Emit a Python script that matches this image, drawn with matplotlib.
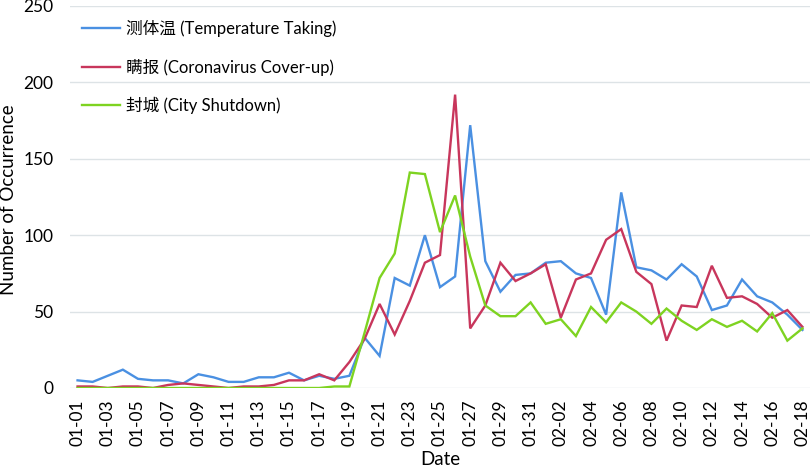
import matplotlib
matplotlib.use("Agg")
import matplotlib.pyplot as plt
import numpy as np

plt.rcParams['font.family'] = ['Lato', 'Noto Sans CJK SC', 'DejaVu Sans']

dates = ["01-%02d" % d for d in range(1, 32)] + ["02-%02d" % d for d in range(1, 19)]

temperature = [5, 4, 8, 12, 6, 5, 5, 3, 9, 7,
               4, 4, 7, 7, 10, 5, 8, 6, 8,
               33, 21, 72, 67, 100, 66, 73, 172, 83, 63, 74, 75,
               82, 83, 75, 72, 48, 128, 79, 77, 71, 81, 73, 51, 54, 71, 60, 56, 48, 38]
coverup = [1, 1, 0, 1, 1, 0, 2, 3, 2, 1,
           0, 1, 1, 2, 5, 5, 9, 5, 17,
           32, 55, 35, 57, 82, 87, 192, 39, 54, 82, 70, 75,
           81, 46, 71, 75, 97, 104, 76, 68, 31, 54, 53, 80, 59, 60, 55, 46, 51, 40]
shutdown = [0] * 17 + [1, 1,
            36, 72, 88, 141, 140, 102, 126, 86, 54, 47, 47, 56,
            42, 45, 34, 53, 43, 56, 50, 42, 52, 44, 38, 45, 40, 44, 37, 49, 31, 39]

labels = ["测体温 (Temperature Taking)", "瞒报 (Coronavirus Cover-up)", "封城 (City Shutdown)"]
colors = ["#4a90e2", "#c8365c", "#7ed321"]

fig = plt.figure(figsize=(8.12, 4.67), dpi=100)
ax = fig.add_axes([70/812, 1 - 388/467, 740/812, 382/467])

x = np.arange(len(dates))
for series, lab, col in zip([temperature, coverup, shutdown], labels, colors):
    ax.plot(x, series, color=col, lw=1.7, label=lab, solid_joinstyle='miter')

ax.set_xlim(-0.5, len(dates) - 0.5)
ax.set_ylim(0, 250)
ax.set_yticks(range(0, 251, 50))
ax.set_xticks(x[::2])
ax.set_xticklabels(dates[::2], rotation=90, fontsize=12.5)
ax.tick_params(axis='y', labelsize=12.5, length=0, pad=12)
ax.tick_params(axis='x', length=0, pad=8)
ax.grid(axis='y', color='#dde3e6', lw=1)
ax.set_axisbelow(True)
for s in ax.spines.values():
    s.set_visible(False)

ax.set_xlabel("Date", fontsize=13.5, labelpad=4)
ax.set_ylabel("Number of Occurrence", fontsize=13.5)
ax.yaxis.label.set_va('center')
ax.yaxis.set_label_coords(-0.0835, 0.492)

leg = ax.legend(loc='upper left', bbox_to_anchor=(0.016, 0.963), frameon=False,
                fontsize=12, handlelength=2.3, handletextpad=0.35,
                labelspacing=1.28, borderpad=0, borderaxespad=0)

fig.savefig("out.png", dpi=100)
